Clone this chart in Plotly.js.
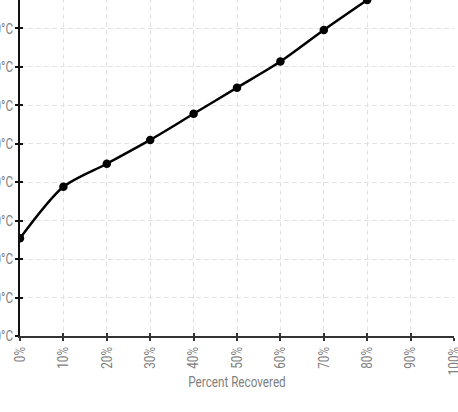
<!DOCTYPE html>
<html>
<head>
<meta charset="utf-8">
<script src="https://cdn.plot.ly/plotly-3.0.1.min.js"></script>
<style>
html, body { margin: 0; padding: 0; overflow: hidden; width: 458px; height: 412px; background: #fff; }
#plot { position: absolute; left: -40px; top: -40px; width: 538px; height: 452px; }
</style>
</head>
<body>
<div id="plot"></div>
<script>
// Distillation curve: percent recovered vs temperature
const percentRecovered = [0, 10, 20, 30, 40, 50, 60, 70, 80];
const temperatureC = [127, 194, 224, 255, 289, 323, 357, 398, 437];
const xTickVals = [0, 10, 20, 30, 40, 50, 60, 70, 80, 90, 100];
const xTickText = ['0%', '10%', '20%', '30%', '40%', '50%', '60%', '70%', '80%', '90%', '100%'];
const yTickVals = [0, 50, 100, 150, 200, 250, 300, 350, 400, 450];
const yTickText = ['0°C', '50°C', '100°C', '150°C', '200°C', '250°C', '300°C', '350°C', '400°C', '450°C'];

const FONT = 'Roboto, "DejaVu Sans", sans-serif';
const NARROW = 0.78; // horizontal condensing of the labels
const GRID = '#e2e2e2';
const TXT = '#808080';

const traces = [
  {
    x: percentRecovered, y: temperatureC,
    type: 'scatter', mode: 'lines+markers',
    line: { color: '#000', width: 2.5, shape: 'spline', smoothing: 0.8 },
    marker: { color: '#000', size: 8.5 },
    cliponaxis: true, hoverinfo: 'skip'
  },
  { x: [], y: [], xaxis: 'x2', yaxis: 'y2', type: 'scatter', mode: 'markers', hoverinfo: 'skip' }
];

const layout = {
  width: 538, height: 452,
  margin: { l: 60, r: 44, t: 30, b: 76 },
  paper_bgcolor: '#fff', plot_bgcolor: '#fff',
  showlegend: false,
  font: { family: FONT, color: TXT, size: 15 },
  xaxis: {
    range: [0, 100], tickvals: xTickVals, ticktext: xTickText,
    tickangle: -90, ticks: 'outside', ticklen: 3, tickwidth: 2, tickcolor: '#333',
    showline: true, linecolor: '#333', linewidth: 2,
    showgrid: true, gridcolor: GRID, griddash: '5px,3px', gridwidth: 1,
    zeroline: false, fixedrange: true,
    tickfont: { family: FONT, color: TXT, size: 15 },
    title: { text: 'Percent Recovered', font: { family: FONT, color: TXT, size: 15 }, standoff: 2 }
  },
  yaxis: {
    range: [0, 450], tickvals: yTickVals, ticktext: yTickText,
    ticks: 'outside', ticklen: 3, tickwidth: 2, tickcolor: '#111',
    ticklabelstandoff: -1,
    showline: true, linecolor: '#111', linewidth: 2,
    showgrid: true, gridcolor: GRID, griddash: '5px,3px', gridwidth: 1,
    zeroline: false, fixedrange: true,
    tickfont: { family: FONT, color: TXT, size: 15 }
  },
  xaxis2: {
    overlaying: 'x', anchor: 'y2', range: [0, 100], tickvals: xTickVals,
    ticks: 'inside', ticklen: 3, tickwidth: 2, tickcolor: '#333',
    showticklabels: false, showgrid: false, showline: false, zeroline: false, fixedrange: true
  },
  yaxis2: {
    overlaying: 'y', anchor: 'x2', range: [0, 450], tickvals: yTickVals,
    ticks: 'inside', ticklen: 3, tickwidth: 2, tickcolor: '#111',
    showticklabels: false, showgrid: false, showline: false, zeroline: false, fixedrange: true
  }
};

function condense(t) {
  const x = parseFloat(t.getAttribute('x')) || 0;
  const y = parseFloat(t.getAttribute('y')) || 0;
  const tr = t.getAttribute('transform') || '';
  t.setAttribute('transform', tr + ' translate(' + x + ',' + y + ') scale(' + NARROW + ',1) translate(' + (-x) + ',' + (-y) + ')');
}

Plotly.newPlot('plot', traces, layout, { displayModeBar: false, staticPlot: true }).then(function () {
  const xt = Array.from(document.querySelectorAll('#plot .xtick text'));
  let maxLen = 0;
  xt.forEach(function (t) { maxLen = Math.max(maxLen, t.getBoundingClientRect().height); });
  xt.forEach(condense);
  document.querySelectorAll('#plot .ytick text').forEach(condense);
  const title = document.querySelector('#plot .g-xtitle text');
  if (title) {
    condense(title);
    const shift = (1 - NARROW) * maxLen;
    title.setAttribute('transform', 'translate(0,' + (-shift) + ') ' + (title.getAttribute('transform') || ''));
  }
});
</script>
</body>
</html>
